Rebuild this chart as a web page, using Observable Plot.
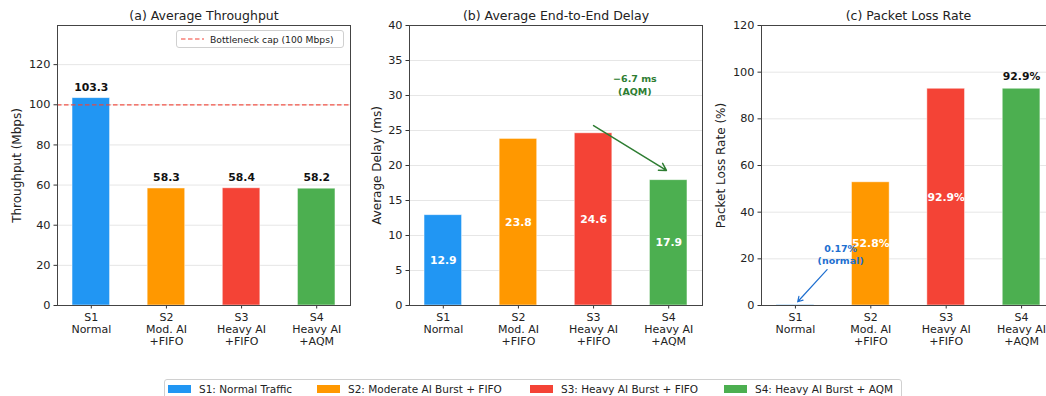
<!DOCTYPE html>
<html>
<head>
<meta charset="utf-8">
<script src="https://cdn.jsdelivr.net/npm/d3@7"></script>
<script src="https://cdn.jsdelivr.net/npm/@observablehq/plot@0.6"></script>
<style>
  html, body { margin: 0; padding: 0; background: #fff; overflow: hidden; }
  #root { position: relative; width: 1046px; height: 396px; overflow: hidden; font-family: "DejaVu Sans", sans-serif; }
  .panel { position: absolute; top: 0; }
  .legend { position: absolute; left: 164px; top: 379px; width: 738px; height: 26px; border: 1px solid #d0d0d0; border-radius: 3px; background: #fff; box-sizing: border-box; }
  .item { position: absolute; top: 3px; display: flex; align-items: center; font-size: 10.5px; color: #222; white-space: nowrap; }
  .sw { width: 23px; height: 8px; margin-right: 8px; }
  .caplegend { position: absolute; left: 176px; top: 30px; width: 168px; height: 18px; border: 1px solid #d0d0d0; border-radius: 3px; background: rgba(255,255,255,0.85); box-sizing: border-box; display: flex; align-items: center; font-size: 9.2px; color: #222; white-space: nowrap; }
</style>
</head>
<body>
<div id="root"></div>
<script>
// ---------- data ----------
const scenarios = ["S1", "S2", "S3", "S4"];
const tickLabels = ["S1\nNormal", "S2\nMod. AI\n+FIFO", "S3\nHeavy AI\n+FIFO", "S4\nHeavy AI\n+AQM"];
const legendLabels = ["S1: Normal Traffic", "S2: Moderate AI Burst + FIFO", "S3: Heavy AI Burst + FIFO", "S4: Heavy AI Burst + AQM"];
const colors = ["#2196F3", "#FF9800", "#F44336", "#4CAF50"];
const throughput = [103.3, 58.3, 58.4, 58.2];
const delay = [12.9, 23.8, 24.6, 17.9];
const loss = [0.17, 52.8, 92.9, 92.9];
const lossLabels = ["", "52.8%", "92.9%", "92.9%"];
const lossLabelPlace = ["none", "inside", "inside", "top"];
const bottleneckCap = 100;
const titles = ["(a) Average Throughput", "(b) Average End-to-End Delay", "(c) Packet Loss Rate"];
const yLabels = ["Throughput (Mbps)", "Average Delay (ms)", "Packet Loss Rate (%)"];
const throughputTicks = [0, 20, 40, 60, 80, 100, 120];
const delayTicks = [0, 5, 10, 15, 20, 25, 30, 35, 40];
const lossTicks = [0, 20, 40, 60, 80, 100, 120];
const delayArrow = [{x1: 2, y1: 25.7, x2: 2.97, y2: 19.3}];
const delayNote = [{x: 2.55, y: 31.6, text: "\u22126.7 ms\n(AQM)"}];
const lossArrow = [{x1: 0.42, y1: 15.4, x2: 0.03, y2: 1.6}];
const lossNote = [{x: 0.6, y: 22, text: "0.17%\n(normal)"}];

const root = document.getElementById("root");
const xDomain = [-0.45, 3.45];
const idx = [0, 1, 2, 3];

function rowsOf(values) {
  return values.map((v, i) => ({i, scenario: scenarios[i], value: v, color: colors[i]}));
}

function panel({left, width, marginLeft, marginRight, values, yDomain, ticks, title, ylabel, labelDx, extra}) {
  const rows = rowsOf(values);
  const svg = Plot.plot({
    width, height: 350,
    marginTop: 25, marginBottom: 45, marginLeft, marginRight,
    style: {fontFamily: "DejaVu Sans, sans-serif", fontSize: "11px", color: "#222", background: "transparent", overflow: "visible"},
    x: {domain: xDomain, axis: null},
    y: {domain: yDomain, axis: null},
    color: {type: "identity"},
    marks: [
      Plot.gridY(ticks, {stroke: "#e6e6e6", strokeOpacity: 1}),
      Plot.rectY(rows, {x1: d => d.i - 0.25, x2: d => d.i + 0.25, y: "value", fill: "color", stroke: "#ffffff", strokeWidth: 0.8, strokeOpacity: 0.6}),
      ...extra(rows),
      Plot.axisX(idx, {tickFormat: i => tickLabels[i], tickSize: 3.5, tickPadding: 3, lineHeight: 1.12, fontSize: 11, label: null, stroke: "#333"}),
      Plot.axisY(ticks, {tickSize: 3.5, tickPadding: 3.5, fontSize: 11.3, label: null, stroke: "#333"}),
      Plot.frame({stroke: "#444", strokeWidth: 1}),
      Plot.text([title], {frameAnchor: "top", dy: -10, lineAnchor: "middle", fontSize: 12.5, fill: "#222"}),
      Plot.text([ylabel], {frameAnchor: "left", dx: labelDx, rotate: -90, textAnchor: "middle", lineAnchor: "middle", fontSize: 12, fill: "#222"})
    ]
  });
  svg.classList.add("panel");
  svg.style.left = left + "px";
  root.appendChild(svg);
  return svg;
}

// (a) throughput
panel({
  left: 0, width: 352, marginLeft: 57, marginRight: 2,
  values: throughput, yDomain: [0, 139.5], ticks: throughputTicks,
  title: titles[0], ylabel: yLabels[0], labelDx: -40,
  extra: rows => [
    Plot.ruleY([bottleneckCap], {stroke: "#f44336", strokeWidth: 1.2, strokeDasharray: "4.5,2.5", strokeOpacity: 0.9}),
    Plot.text(rows, {x: "i", y: "value", text: d => d.value.toFixed(1), dy: -11, fontWeight: "bold", fontSize: 10.8, fill: "#111"})
  ]
});

// (b) delay
panel({
  left: 355, width: 350, marginLeft: 54, marginRight: 3,
  values: delay, yDomain: [0, 40], ticks: delayTicks,
  title: titles[1], ylabel: yLabels[1], labelDx: -32,
  extra: rows => [
    Plot.text(rows, {x: "i", y: d => d.value / 2, text: d => d.value.toFixed(1), fontWeight: "bold", fontSize: 10.8, fill: "#fff"}),
    Plot.arrow(delayArrow, {x1: "x1", y1: "y1", x2: "x2", y2: "y2", stroke: "#2E7D32", strokeWidth: 1.5, headLength: 8}),
    Plot.text(delayNote, {x: "x", y: "y", text: "text", fontWeight: "bold", fontSize: 9.5, lineHeight: 1.35, fill: "#2E7D32"})
  ]
});

// (c) loss
panel({
  left: 705, width: 352, marginLeft: 56, marginRight: 2,
  values: loss, yDomain: [0, 120], ticks: lossTicks,
  title: titles[2], ylabel: yLabels[2], labelDx: -40,
  extra: rows => [
    Plot.text(rows.filter(d => lossLabelPlace[d.i] === "inside"), {x: "i", y: d => d.value / 2, text: d => lossLabels[d.i], fontWeight: "bold", fontSize: 10.8, fill: "#fff"}),
    Plot.text(rows.filter(d => lossLabelPlace[d.i] === "top"), {x: "i", y: "value", text: d => lossLabels[d.i], dy: -12, fontWeight: "bold", fontSize: 10.8, fill: "#111"}),
    Plot.arrow(lossArrow, {x1: "x1", y1: "y1", x2: "x2", y2: "y2", stroke: "#1E6FD0", strokeWidth: 1.2, headLength: 7}),
    Plot.text(lossNote, {x: "x", y: "y", text: "text", fontWeight: "bold", fontSize: 9.5, lineHeight: 1.3, fill: "#1E6FD0"})
  ]
});

// cap legend in panel (a)
const cap = document.createElement("div");
cap.className = "caplegend";
cap.innerHTML = `<svg width="30" height="10" style="margin-left:3px"><line x1="1" x2="24" y1="5" y2="5" stroke="#f44336" stroke-width="1.2" stroke-dasharray="4.5,2.5"/></svg><span>Bottleneck cap (${bottleneckCap} Mbps)</span>`;
root.appendChild(cap);

// bottom legend
const legend = document.createElement("div");
legend.className = "legend";
const itemLefts = [3, 152, 365, 559];
legendLabels.forEach((lab, i) => {
  const it = document.createElement("div");
  it.className = "item";
  it.style.left = itemLefts[i] + "px";
  it.innerHTML = `<div class="sw" style="background:${colors[i]}"></div><span>${lab}</span>`;
  legend.appendChild(it);
});
root.appendChild(legend);
</script>
</body>
</html>
